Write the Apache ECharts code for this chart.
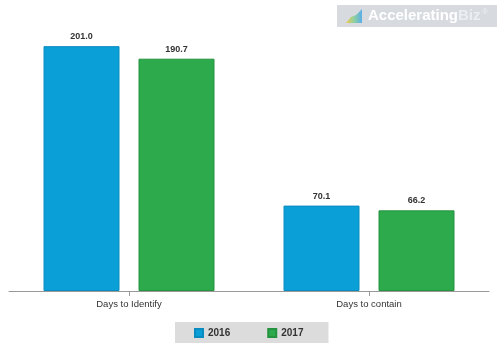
<!DOCTYPE html>
<html>
<head>
<meta charset="utf-8">
<script src="https://cdn.jsdelivr.net/npm/echarts@6/dist/echarts.min.js"></script>
<style>
html,body{margin:0;padding:0;background:#fff;}
#main{width:500px;height:357px;}
</style>
</head>
<body>
<div id="main"></div>
<script>
const categories = ['Days to Identify', 'Days to contain'];
const seriesNames = ['2016', '2017'];
const values2016 = [201.0, 70.1];
const values2017 = [190.7, 66.2];

const chart = echarts.init(document.getElementById('main'), null, {renderer: 'canvas'});
const font = 'Liberation Sans, Arial, sans-serif';

const labelOpt = {
  show: true,
  position: 'top',
  distance: 5,
  color: '#333',
  fontSize: 9,
  fontWeight: 'bold',
  fontFamily: font,
  formatter: p => p.value.toFixed(1)
};

chart.setOption({
  animation: false,
  backgroundColor: '#fff',
  grid: {left: 9, right: 11, top: 23, bottom: 66, containLabel: false},
  legend: {
    data: seriesNames,
    left: 175,
    top: 322,
    backgroundColor: '#dcdcdc',
    padding: [6, 25, 5, 19],
    itemWidth: 8,
    itemHeight: 8,
    itemGap: 37,
    icon: 'rect',
    textStyle: {color: '#333', fontSize: 10, fontWeight: 'bold', fontFamily: font}
  },
  xAxis: {
    type: 'category',
    data: categories,
    axisLine: {lineStyle: {color: '#999', width: 1}},
    axisTick: {show: true, alignWithLabel: true, length: 5, lineStyle: {color: '#999'}},
    axisLabel: {color: '#333', fontSize: 9.5, fontFamily: font, margin: 8}
  },
  yAxis: {
    type: 'value',
    min: 0,
    max: 220,
    show: false,
    splitLine: {show: false}
  },
  series: [
    {
      name: seriesNames[0],
      type: 'bar',
      data: values2016,
      barWidth: 76,
      barGap: '25%',
      itemStyle: {color: '#0a9fd6', borderColor: '#0b8cc0', borderWidth: 1},
      label: labelOpt
    },
    {
      name: seriesNames[1],
      type: 'bar',
      data: values2017,
      barWidth: 76,
      barGap: '25%',
      itemStyle: {color: '#2daa4b', borderColor: '#25923f', borderWidth: 1},
      label: labelOpt
    }
  ],
  graphic: [
    {
      type: 'group',
      left: 337,
      top: 5,
      children: [
        {type: 'rect', shape: {x: 0, y: 0, width: 160, height: 22}, style: {fill: '#d7dbe0'}},
        {type: 'polygon', shape: {points: [[9, 18], [25, 18], [25, 4], [19, 10], [14, 12]]},
          style: {fill: new echarts.graphic.LinearGradient(0, 0, 1, 0, [
            {offset: 0, color: '#f2c94c'}, {offset: 0.5, color: '#8fd0a0'}, {offset: 1, color: '#5aaee8'}
          ])}},
        {type: 'text', x: 31, y: 11, style: {
          text: '{a|Accelerating}{b|Biz}{c|®}',
          verticalAlign: 'middle',
          rich: {
            a: {fill: '#ffffff', fontSize: 15, fontWeight: 'bold', fontFamily: font},
            b: {fill: '#eceff2', fontSize: 15, fontWeight: 'bold', fontFamily: font},
            c: {fill: '#eceff2', fontSize: 7, fontFamily: font, verticalAlign: 'top', padding: [0, 0, 8, 2]}
          }
        }}
      ]
    }
  ]
});
</script>
</body>
</html>
